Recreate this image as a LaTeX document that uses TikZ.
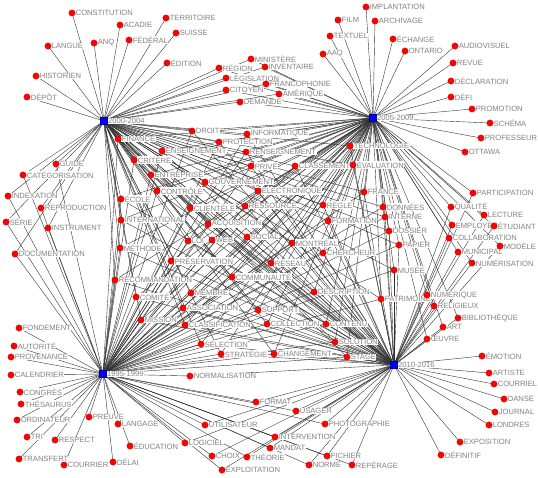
\documentclass[tikz,border=0pt]{standalone}
\usepackage{fontspec}
\setmainfont{Liberation Sans}
\definecolor{labelgray}{RGB}{130,130,130}
\definecolor{edgegray}{RGB}{50,50,50}
\pgfdeclarelayer{bg}
\pgfdeclarelayer{lab}
\pgfsetlayers{bg,lab,main}
\tikzset{
 dot/.style={circle, fill=red, draw=red!75!black, line width=0.3pt, inner sep=0pt, minimum size=6.4pt},
 hub/.style={rectangle, fill=blue, draw=blue!60!black, line width=0.3pt, inner sep=0pt, minimum size=7pt},
 lbl/.style={anchor=west, fill=white, inner sep=0.4pt, text=labelgray, font=\fontsize{7.6}{8}\selectfont},
 edge/.style={draw=edgegray, line width=0.4pt},
}
\newcommand\TermN[4]{\node[dot] (#1) at (#2,#3) {};
 \begin{pgfonlayer}{lab}\node[lbl] (#1-l) at ([xshift=3.2pt]#1.center) {#4};\end{pgfonlayer}}
\newcommand\HubN[4]{\node[hub] (#1) at (#2,#3) {};
 \begin{pgfonlayer}{lab}\node[lbl] (#1-l) at ([xshift=3.6pt]#1.center) {#4};\end{pgfonlayer}}
\begin{document}
\begin{tikzpicture}[x=1pt,y=-1pt]
\useasboundingbox (0,0) rectangle (538,478);
% hubs
\HubN{ha}{104}{121}{2000-2004}
\HubN{hb}{373}{118}{2005-2009}
\HubN{hc}{103}{374}{1995-1999}
\HubN{hd}{394}{365}{2010-2016}
% H1 only
\TermN{constitution}{72}{13}{CONSTITUTION}
\TermN{acadie}{120}{25}{ACADIE}
\TermN{federal}{129}{40}{FÉDÉRAL}
\TermN{anq}{94}{43}{ANQ}
\TermN{langue}{48}{46}{LANGUE}
\TermN{historien}{36}{76}{HISTORIEN}
\TermN{depot}{27}{97}{DÉPÔT}
\TermN{territoire}{166}{18}{TERRITOIRE}
\TermN{suisse}{176}{33}{SUISSE}
\TermN{edition}{167}{63}{ÉDITION}
% H1 H2
\TermN{ministere}{251}{59}{MINISTÈRE}
\TermN{region}{219}{68}{RÉGION}
\TermN{inventaire}{265}{67}{INVENTAIRE}
\TermN{legislation}{226}{78}{LÉGISLATION}
\TermN{francophonie}{266}{84}{FRANCOPHONIE}
\TermN{citoyen}{226}{90}{CITOYEN}
\TermN{amerique}{279}{94}{AMÉRIQUE}
\TermN{demande}{240}{102}{DEMANDE}
% H2 only
\TermN{film}{338}{20}{FILM}
\TermN{textuel}{330}{36}{TEXTUEL}
\TermN{aaq}{323}{54}{AAQ}
\TermN{implantation}{366}{7}{IMPLANTATION}
\TermN{archivage}{375}{21}{ARCHIVAGE}
\TermN{echange}{393}{39}{ÉCHANGE}
\TermN{ontario}{405}{51}{ONTARIO}
\TermN{audiovisuel}{455}{46}{AUDIOVISUEL}
\TermN{revue}{453}{63}{REVUE}
\TermN{declaration}{451}{81}{DÉCLARATION}
\TermN{defi}{451}{97}{DÉFI}
\TermN{promotion}{472}{109}{PROMOTION}
\TermN{schema}{490}{123}{SCHÉMA}
\TermN{professeur}{481}{138}{PROFESSEUR}
\TermN{ottawa}{465}{152}{OTTAWA}
% H2 H4
\TermN{participation}{473}{193}{PARTICIPATION}
\TermN{qualite}{451}{207}{QUALITÉ}
\TermN{lecture}{484}{215}{LECTURE}
\TermN{employes}{452}{225}{EMPLOYÉS}
\TermN{etudiant}{494}{226}{ÉTUDIANT}
\TermN{collaboration}{449}{238}{COLLABORATION}
\TermN{modele}{500}{246}{MODÈLE}
\TermN{municipal}{458}{252}{MUNICIPAL}
\TermN{numerisation}{472}{263}{NUMÉRISATION}
\TermN{numerique}{427}{295}{NUMÉRIQUE}
\TermN{religieux}{434}{306}{RELIGIEUX}
\TermN{bibliotheque}{458}{318}{BIBLIOTHÈQUE}
\TermN{art}{443}{327}{ART}
\TermN{oeuvre}{427}{339}{ŒUVRE}
% H4 only
\TermN{emotion}{482}{356}{ÉMOTION}
\TermN{artiste}{489}{373}{ARTISTE}
\TermN{courriel}{494}{384}{COURRIEL}
\TermN{danse}{504}{399}{DANSE}
\TermN{journal}{495}{412}{JOURNAL}
\TermN{londres}{489}{425}{LONDRES}
\TermN{exposition}{460}{442}{EXPOSITION}
\TermN{definitif}{441}{455}{DÉFINITIF}
% H1 H3
\TermN{guide}{56}{164}{GUIDE}
\TermN{categorisation}{23}{175}{CATÉGORISATION}
\TermN{indexation}{8}{196}{INDEXATION}
\TermN{reproduction}{41}{208}{REPRODUCTION}
\TermN{serie}{6}{222}{SÉRIE}
\TermN{instrument}{48}{228}{INSTRUMENT}
\TermN{documentation}{15}{254}{DOCUMENTATION}
% H3 only
\TermN{fondement}{19}{328}{FONDEMENT}
\TermN{autorite}{14}{346}{AUTORITÉ}
\TermN{provenance}{11}{357}{PROVENANCE}
\TermN{calendrier}{11}{375}{CALENDRIER}
\TermN{congres}{20}{392}{CONGRÈS}
\TermN{thesaurus}{21}{404}{THÉSAURUS}
\TermN{ordinateur}{17}{420}{ORDINATEUR}
\TermN{tri}{27}{437}{TRI}
\TermN{respect}{55}{440}{RESPECT}
\TermN{transfert}{19}{459}{TRANSFERT}
\TermN{courrier}{64}{465}{COURRIER}
\TermN{preuve}{89}{417}{PREUVE}
\TermN{langage}{118}{424}{LANGAGE}
\TermN{education}{130}{446}{ÉDUCATION}
\TermN{delai}{113}{462}{DÉLAI}
% H3 H4
\TermN{normalisation}{190}{376}{NORMALISATION}
\TermN{format}{256}{402}{FORMAT}
\TermN{usager}{296}{411}{USAGER}
\TermN{utilisateur}{205}{425}{UTILISATEUR}
\TermN{photographie}{325}{424}{PHOTOGRAPHIE}
\TermN{intervention}{275}{437}{INTERVENTION}
\TermN{logiciel}{185}{443}{LOGICIEL}
\TermN{mandat}{270}{448}{MANDAT}
\TermN{choix}{212}{456}{CHOIX}
\TermN{theorie}{247}{457}{THÉORIE}
\TermN{fichier}{327}{456}{FICHIER}
\TermN{exploitation}{222}{470}{EXPLOITATION}
\TermN{norme}{309}{465}{NORME}
\TermN{reperage}{352}{465}{REPÉRAGE}
% central
\TermN{finance}{118}{139}{FINANCE}
\TermN{enseignement}{162}{151}{ENSEIGNEMENT}
\TermN{critere}{134}{160}{CRITÈRE}
\TermN{entreprise}{151}{175}{ENTREPRISE}
\TermN{controle}{157}{191}{CONTRÔLE}
\TermN{ecole}{121}{199}{ÉCOLE}
\TermN{international}{121}{220}{INTERNATIONAL}
\TermN{methode}{120}{248}{MÉTHODE}
\TermN{recommandation}{115}{280}{RECOMMANDATION}
\TermN{comite}{136}{297}{COMITÉ}
\TermN{mission}{141}{320}{MISSION}
\TermN{droit}{192}{131}{DROIT}
\TermN{informatique}{247}{134}{INFORMATIQUE}
\TermN{protection}{219}{142}{PROTECTION}
\TermN{renseignement}{246}{152}{RENSEIGNEMENT}
\TermN{prive}{251}{166}{PRIVÉ}
\TermN{classement}{295}{166}{CLASSEMENT}
\TermN{gouvernement}{205}{182}{GOUVERNEMENT}
\TermN{electronique}{258}{191}{ÉLECTRONIQUE}
\TermN{clientele}{190}{208}{CLIENTÈLE}
\TermN{ressource}{245}{206}{RESSOURCE}
\TermN{regle}{323}{205}{RÈGLE}
\TermN{acquisition}{208}{224}{ACQUISITION}
\TermN{formation}{328}{221}{FORMATION}
\TermN{social}{247}{237}{SOCIAL}
\TermN{technologie}{350}{146}{TECHNOLOGIE}
\TermN{evaluation}{353}{165}{ÉVALUATION}
\TermN{france}{364}{192}{FRANCE}
\TermN{donnees}{383}{207}{DONNÉES}
\TermN{interne}{385}{217}{INTERNE}
\TermN{dossier}{389}{231}{DOSSIER}
\TermN{papier}{399}{245}{PAPIER}
\TermN{musee}{394}{270}{MUSÉE}
\TermN{patrimoine}{381}{299}{PATRIMOINE}
\TermN{montreal}{292}{243}{MONTRÉAL}
\TermN{chercheur}{323}{253}{CHERCHEUR}
\TermN{reseau}{271}{263}{RÉSEAU}
\TermN{communaute}{232}{277}{COMMUNAUTÉ}
\TermN{description}{314}{292}{DESCRIPTION}
\TermN{membre}{191}{293}{MEMBRE}
\TermN{association}{183}{308}{ASSOCIATION}
\TermN{support}{258}{310}{SUPPORT}
\TermN{classification}{185}{325}{CLASSIFICATION}
\TermN{collection}{267}{324}{COLLECTION}
\TermN{contenu}{326}{324}{CONTENU}
\TermN{selection}{201}{344}{SÉLECTION}
\TermN{solution}{335}{342}{SOLUTION}
\TermN{strategie}{221}{354}{STRATÉGIE}
\TermN{changement}{274}{354}{CHANGEMENT}
\TermN{stage}{347}{357}{STAGE}
\TermN{preservation}{171}{261}{PRÉSERVATION}
\TermN{loi}{188}{241}{LOI}
\TermN{web}{212}{240}{WEB}
% edges
\begin{pgfonlayer}{bg}
\foreach \n in {constitution,acadie,federal,anq,langue,historien,depot,territoire,suisse,edition}
  \draw[edge] (ha.center) -- (\n.center);
\foreach \n in {ministere,region,inventaire,legislation,francophonie,citoyen,amerique,demande}
  {\draw[edge] (ha.center) -- (\n.center); \draw[edge] (hb.center) -- (\n.center);}
\foreach \n in {film,textuel,aaq,implantation,archivage,echange,ontario,audiovisuel,revue,declaration,defi,promotion,schema,professeur,ottawa}
  \draw[edge] (hb.center) -- (\n.center);
\foreach \n in {participation,qualite,lecture,employes,etudiant,collaboration,modele,municipal,numerisation,numerique,religieux,bibliotheque,art,oeuvre}
  {\draw[edge] (hb.center) -- (\n.center); \draw[edge] (hd.center) -- (\n.center);}
\foreach \n in {emotion,artiste,courriel,danse,journal,londres,exposition,definitif}
  \draw[edge] (hd.center) -- (\n.center);
\foreach \n in {guide,categorisation,indexation,reproduction,serie,instrument,documentation}
  {\draw[edge] (ha.center) -- (\n.center); \draw[edge] (hc.center) -- (\n.center);}
\foreach \n in {fondement,autorite,provenance,calendrier,congres,thesaurus,ordinateur,tri,respect,transfert,courrier,preuve,langage,education,delai}
  \draw[edge] (hc.center) -- (\n.center);
\foreach \n in {normalisation,format,usager,utilisateur,photographie,intervention,logiciel,mandat,choix,theorie,fichier,exploitation,norme,reperage}
  {\draw[edge] (hc.center) -- (\n.center); \draw[edge] (hd.center) -- (\n.center);}
\foreach \n in {finance,enseignement,critere,entreprise,controle,ecole,international,methode,recommandation,comite,mission,droit,informatique,protection,renseignement,prive,classement,gouvernement,electronique,clientele,ressource,regle,acquisition,formation,social,technologie,evaluation,france,donnees,interne,dossier,papier,musee,patrimoine,montreal,chercheur,reseau,communaute,description,membre,association,support,classification,collection,contenu,selection,solution,strategie,changement,stage,preservation,loi,web}
  {\draw[edge] (ha.center) -- (\n.center); \draw[edge] (hb.center) -- (\n.center);
   \draw[edge] (hc.center) -- (\n.center); \draw[edge] (hd.center) -- (\n.center);}
\end{pgfonlayer}
\end{tikzpicture}
\end{document}
